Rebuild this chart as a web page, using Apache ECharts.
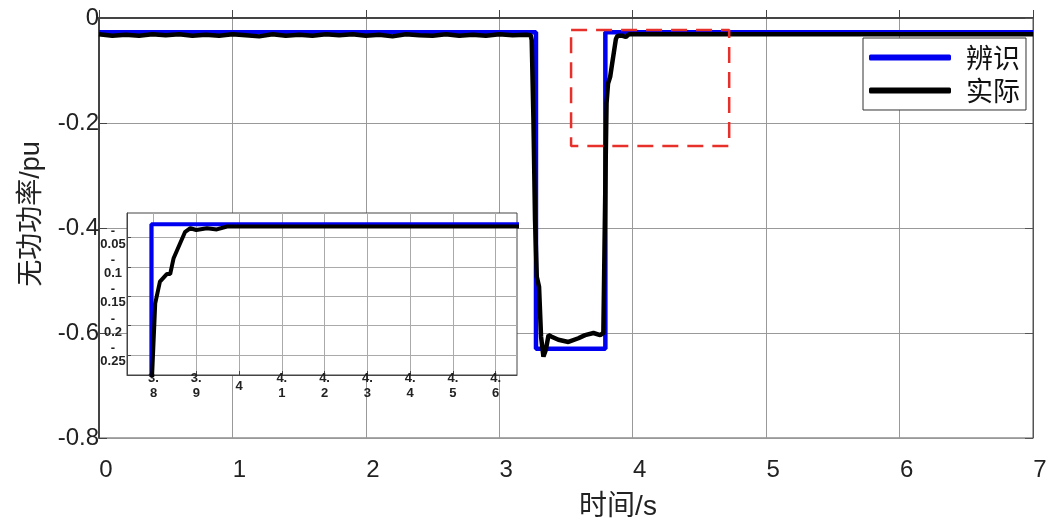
<!DOCTYPE html>
<html>
<head>
<meta charset="utf-8">
<script src="https://cdn.jsdelivr.net/npm/echarts@6/dist/echarts.min.js"></script>
<style>
  html, body { margin: 0; background: #fff; }
  #chart { width: 1063px; height: 531px; }
</style>
</head>
<body>
<div id="chart"></div>
<script>
// 辨识 - identified step
var identData = [[0, -0.027], [3.275, -0.027], [3.275, -0.63], [3.795, -0.63], [3.795, -0.027], [7, -0.027]];
// 实际 - measured
var actualData = [
  [0, -0.031], [0.1, -0.034], [0.2, -0.032], [0.3, -0.034], [0.4, -0.031], [0.5, -0.033],
  [0.6, -0.031], [0.7, -0.034], [0.8, -0.032], [0.9, -0.034], [1.0, -0.031], [1.1, -0.033],
  [1.2, -0.035], [1.3, -0.031], [1.4, -0.034], [1.5, -0.032], [1.6, -0.034], [1.7, -0.031],
  [1.8, -0.033], [1.9, -0.031], [2.0, -0.034], [2.1, -0.032], [2.2, -0.035], [2.3, -0.031],
  [2.4, -0.033], [2.5, -0.034], [2.6, -0.031], [2.7, -0.034], [2.8, -0.032], [2.9, -0.034],
  [3.0, -0.031], [3.1, -0.033], [3.2, -0.032], [3.235, -0.033],
  [3.243, -0.042], [3.256, -0.194], [3.268, -0.385], [3.281, -0.493], [3.298, -0.512],
  [3.313, -0.607], [3.331, -0.645], [3.349, -0.632], [3.369, -0.604], [3.393, -0.607],
  [3.443, -0.613], [3.518, -0.617], [3.593, -0.610], [3.643, -0.604], [3.706, -0.600],
  [3.756, -0.604], [3.780, -0.600], [3.788, -0.448], [3.797, -0.280], [3.804, -0.162],
  [3.815, -0.125], [3.831, -0.112], [3.839, -0.112], [3.847, -0.085], [3.862, -0.060],
  [3.874, -0.040], [3.886, -0.034], [3.900, -0.037], [3.925, -0.034], [3.948, -0.036],
  [3.972, -0.031], [4.0, -0.031], [7, -0.031]
];
// 红色虚线框 (zoom region)
var boxData = [[3.538, -0.023], [4.723, -0.023], [4.723, -0.244], [3.538, -0.244], [3.538, -0.023]];
var insetXTicks = [3.8, 3.9, 4, 4.1, 4.2, 4.3, 4.4, 4.5, 4.6];
var insetYTicks = [-0.25, -0.2, -0.15, -0.1, -0.05];

var chart = echarts.init(document.getElementById('chart'));
var numFont = "'Liberation Sans', Arial, sans-serif";
var cjkFont = "'Liberation Sans', 'Noto Sans CJK SC', sans-serif";

chart.setOption({
  animation: false,
  grid: [{
    left: 99, top: 18, width: 934, height: 420,
    show: true, borderColor: '#555', borderWidth: 1
  }, {
    left: 127, top: 213, width: 390, height: 162, z: 3,
    show: true, backgroundColor: '#fff', borderColor: '#444', borderWidth: 1
  }],
  legend: {
    data: ['辨识', '实际'],
    orient: 'vertical',
    left: 863, top: 38,
    itemWidth: 82, itemHeight: 6, itemGap: 6,
    icon: 'roundRect',
    padding: [6, 6, 6, 6],
    backgroundColor: '#fff',
    borderColor: '#333', borderWidth: 1,
    textStyle: { fontSize: 27, color: '#111', fontFamily: "'Noto Sans CJK SC', serif", padding: [0, 0, 0, 10] }
  },
  xAxis: [{
    gridIndex: 0, type: 'value', min: 0, max: 7, interval: 1,
    name: '时间/s', nameLocation: 'middle', nameGap: 55,
    nameTextStyle: { fontSize: 28, color: '#222', fontFamily: cjkFont, padding: [0, 0, 0, 104] },
    axisLine: { lineStyle: { color: '#444', width: 2 } },
    axisTick: { inside: true, length: 8, lineStyle: { color: '#444' } },
    axisLabel: { fontSize: 24, color: '#222', fontFamily: numFont, margin: 20, padding: [0, 0, 0, 14] },
    splitLine: { lineStyle: { color: '#999', width: 1 } }
  }, {
    gridIndex: 1, type: 'value', min: 3.738, max: 4.65, z: 4,
    axisLine: { lineStyle: { color: '#444', width: 1 } },
    axisTick: { inside: true, length: 4, customValues: insetXTicks, lineStyle: { color: '#444' } },
    axisLabel: {
      customValues: insetXTicks, fontSize: 13, fontWeight: 'bold', color: '#222', fontFamily: numFont,
      margin: 11, verticalAlign: 'middle', lineHeight: 15, hideOverlap: false,
      formatter: function (v) {
        var s = (Math.round(v * 10) / 10).toString();
        return s.indexOf('.') >= 0 ? s.replace('.', '.\n') : s;
      }
    },
    splitLine: { show: true, lineStyle: { color: '#aaa', width: 1 } }
  }],
  yAxis: [{
    gridIndex: 0, type: 'value', min: -0.8, max: 0, interval: 0.2,
    name: '无功功率/pu', nameLocation: 'middle', nameGap: 54,
    nameTextStyle: { fontSize: 27, color: '#222', fontFamily: cjkFont, padding: [0, 0, 0, 28] },
    axisLine: { show: true, lineStyle: { color: '#444', width: 2 } },
    axisTick: { show: true, inside: true, length: 8, lineStyle: { color: '#444' } },
    axisLabel: { fontSize: 24, color: '#222', fontFamily: numFont, margin: 0, padding: [10, 0, 0, 0] },
    splitLine: { lineStyle: { color: '#999', width: 1 } }
  }, {
    gridIndex: 1, type: 'value', min: -0.284, max: -0.008, z: 4,
    axisLine: { show: true, lineStyle: { color: '#444', width: 1 } },
    axisTick: { show: true, inside: true, length: 4, customValues: insetYTicks, lineStyle: { color: '#444' } },
    axisLabel: {
      customValues: insetYTicks, fontSize: 13, fontWeight: 'bold', color: '#222', fontFamily: numFont,
      margin: 14, align: 'center', lineHeight: 13, hideOverlap: false,
      showMinLabel: true, showMaxLabel: true,
      formatter: function (v) { return '-\n' + (Math.round(Math.abs(v) * 100) / 100); }
    },
    splitLine: { show: true, lineStyle: { color: '#aaa', width: 1 } }
  }, {
    gridIndex: 0, type: 'value', min: -0.8, max: 0, interval: 0.2, position: 'right',
    axisLine: { show: true, lineStyle: { color: '#555', width: 1 } },
    axisTick: { show: true, inside: true, length: 8, lineStyle: { color: '#555' } },
    axisLabel: { show: false },
    splitLine: { show: false }
  }],
  series: [{
    name: '辨识', type: 'line', xAxisIndex: 0, yAxisIndex: 0,
    data: identData, symbol: 'none', z: 2,
    lineStyle: { color: '#0000f0', width: 4.5 }, itemStyle: { color: '#0000f0' }
  }, {
    name: '实际', type: 'line', xAxisIndex: 0, yAxisIndex: 0,
    data: actualData, symbol: 'none', z: 2,
    lineStyle: { color: '#000', width: 4.5 }, itemStyle: { color: '#000' }
  }, {
    name: 'zoomBox', type: 'line', xAxisIndex: 0, yAxisIndex: 0,
    data: boxData, symbol: 'none', z: 2, silent: true,
    lineStyle: { color: '#e8302a', width: 2.5, type: [16, 9] }
  }, {
    name: '辨识', type: 'line', xAxisIndex: 1, yAxisIndex: 1,
    data: identData, symbol: 'none', z: 5,
    lineStyle: { color: '#0000f0', width: 4 }
  }, {
    name: '实际', type: 'line', xAxisIndex: 1, yAxisIndex: 1,
    data: actualData, symbol: 'none', z: 5,
    lineStyle: { color: '#000', width: 4 }
  }]
});
</script>
</body>
</html>
